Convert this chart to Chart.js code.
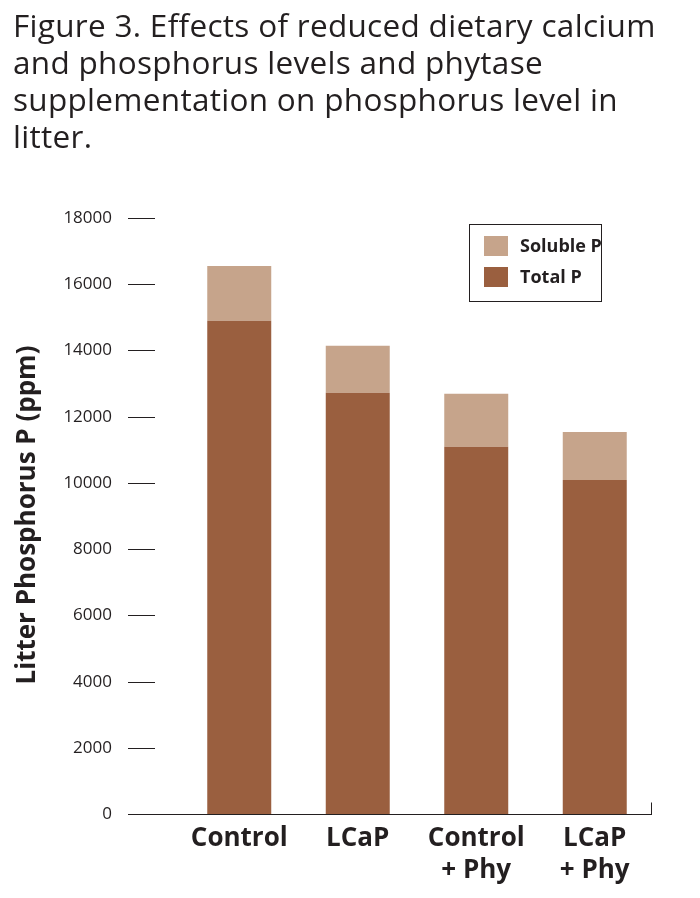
<!DOCTYPE html>
<html><head><meta charset="utf-8">
<script src="https://cdn.jsdelivr.net/npm/chart.js@4"></script>
<style>
body{margin:0;background:#fff;width:700px;height:898px;overflow:hidden;position:relative}
#t{position:absolute;left:13px;top:6px;font-family:"Open Sans";font-size:31.5px;line-height:37px;color:#231f20;letter-spacing:0.3px;white-space:nowrap}
canvas{position:absolute;left:0;top:0}
</style></head><body>
<canvas id="c" width="700" height="898"></canvas>
<div id="t">Figure 3. Effects of reduced dietary calcium<br>and phosphorus levels and phytase<br>supplementation on phosphorus level in<br>litter.</div>
<script>
const categories=[["Control"],["LCaP"],["Control","+ Phy"],["LCaP","+ Phy"]];
const totalP=[14900,12720,11090,10090];
const solubleP=[1650,1420,1600,1450];
const yTicks=[0,2000,4000,6000,8000,10000,12000,14000,16000,18000];
const cTotal="#9a5f3f",cSol="#c6a48b",ink="#231f20";
const axisPlugin={id:"ax",afterDraw(ch){
 const c=ch.ctx,y=ch.scales.y,x=ch.scales.x;
 c.save();c.strokeStyle=ink;c.lineWidth=1;c.fillStyle=ink;
 c.font="17px 'Open Sans'";c.textAlign="right";c.textBaseline="middle";
 yTicks.forEach(v=>{const p=Math.round(y.getPixelForValue(v))+0.5;
  c.beginPath();c.moveTo(128,p);c.lineTo(155,p);c.stroke();c.fillText(String(v),112,p);});
 const b=Math.round(y.getPixelForValue(0))+0.5;
 c.beginPath();c.moveTo(128,b);c.lineTo(652,b);c.moveTo(651.5,b);c.lineTo(651.5,b-12);c.stroke();
 c.font="bold 26px 'Open Sans'";c.textAlign="center";c.textBaseline="top";
 categories.forEach((l,i)=>{const px=x.getPixelForValue(i);l.forEach((s,j)=>c.fillText(s,px,826+j*32));});
 c.translate(28,515);c.rotate(-Math.PI/2);c.textBaseline="middle";c.font="bold 26px 'Open Sans'";
 c.fillText("Litter Phosphorus P (ppm)",0,0);
 c.restore();
 c.save();c.strokeStyle=ink;c.lineWidth=1;c.strokeRect(469.5,224.5,132,77);
 c.fillStyle=cSol;c.fillRect(484,236,24,20);c.fillStyle=cTotal;c.fillRect(484,267,24,20);
 c.fillStyle=ink;c.font="bold 18px 'Open Sans'";c.textBaseline="middle";c.textAlign="left";
 c.fillText("Soluble P",520,247);c.fillText("Total P",520,278);c.restore();
}};
new Chart(document.getElementById("c"),{type:"bar",
 data:{labels:categories.map(l=>l.join(" ")),datasets:[
  {label:"Total P",data:totalP,backgroundColor:cTotal},
  {label:"Soluble P",data:solubleP,backgroundColor:cSol}]},
 options:{responsive:false,animation:false,devicePixelRatio:1,
  layout:{padding:{left:180,right:46,top:218,bottom:84}},
  plugins:{legend:{display:false},tooltip:{enabled:false}},
  datasets:{bar:{categoryPercentage:1,barPercentage:0.54}},
  scales:{x:{stacked:true,display:false},y:{stacked:true,display:false,min:0,max:18000}}},
 plugins:[axisPlugin]});
</script></body></html>
